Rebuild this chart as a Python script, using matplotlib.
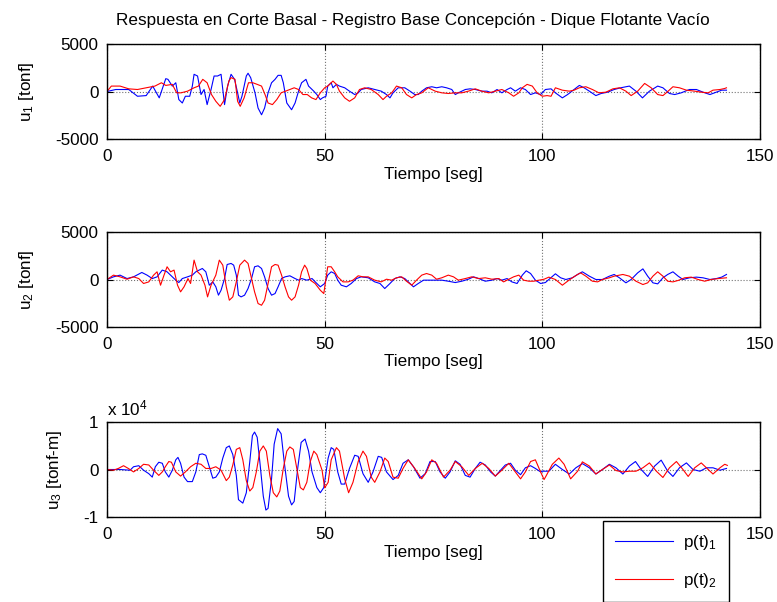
import matplotlib
matplotlib.use("Agg")
import matplotlib.pyplot as plt
import numpy as np

plt.rcParams['font.family'] = ['Liberation Sans', 'DejaVu Sans']
plt.rcParams['mathtext.fontset'] = 'custom'
plt.rcParams['mathtext.rm'] = 'Liberation Sans'
plt.rcParams['mathtext.it'] = 'Liberation Sans:italic'
plt.rcParams['axes.unicode_minus'] = False

# Datos: (tiempo [seg], valor)
t_u1_p1 = [0, 2, 5, 7, 9, 10.5, 12, 13.5, 14, 15, 15.8, 16.5, 17.3, 18, 19, 19.6, 20, 20.8, 21.6, 22.3,
           23, 23.9, 24.6, 25.4, 26.2, 27, 27.7, 28.5, 29.3, 30, 30.5, 31, 32, 32.4, 33, 34, 34.7, 35.5,
           36.2, 37, 37.8, 38.6, 39.3, 40, 40.5, 41.3, 42.4, 43.2, 44, 44.7, 45.7, 46.3, 47.5, 48.2, 49,
           49.5, 50.3, 50.7, 51.5, 51.9, 52.7, 53.4, 54.6, 55.7, 56.9, 57.7, 58.4, 60, 61.5, 63, 64.2, 65,
           65.7, 66.9, 68.4, 69.6, 70.7, 71.5, 72.3, 73.4, 74.6, 75.7, 76.9, 78, 79.2, 80, 80.7, 82.3, 83.4,
           84.6, 86.1, 87.3, 88.4, 89.6, 90.7, 91.9, 92.7, 93.8, 95, 96.1, 97.3, 98.4, 99.6, 100.7, 102,
           103, 104.6, 105.8, 107.3, 108.5, 109.6, 110.8, 112.3, 113.5, 115, 116.5, 118, 120, 121.5, 123,
           124.6, 126.5, 127.7, 129.2, 130.4, 131.9, 133.8, 135.4, 136.9, 138.5, 140, 141.2, 142.3]
u1_p1 = [0, 210, 210, -500, -430, 570, -670, 1350, 1280, 570, 920, -850, -1210, -500, -500, 570, 1810, 1630,
         -320, 210, -1380, 210, 1630, 1630, 1810, -1380, 570, 1810, 1280, -140, -1210, -500, 1630, 1920, 1460,
         -140, -1740, -2450, -1740, -140, 920, 1280, 1700, 1700, 920, -1210, -1920, -1210, 35, 920, 1280, 570,
         35, -320, -850, -670, -500, 570, 920, 390, 750, 570, 390, 35, -320, -140, 210, 390, 210, 35, -320,
         -670, -140, 390, 390, 35, -320, -320, 35, 390, 500, 390, 500, 390, 210, -320, -140, 210, 280, 210,
         35, 35, -140, 210, -140, 210, 390, 35, 390, 210, -320, -140, -320, 210, 280, -140, -670, -320, 210,
         640, 390, 35, -430, -210, -70, 210, 390, 570, 35, -670, 35, 570, 390, -210, -320, -140, 210, 210,
         -70, -320, -70, 140, 140]

t_u1_p2 = [0, 1, 3, 5, 7, 9, 11, 12.5, 13.5, 15, 16, 17, 18.5, 20, 21, 22, 23, 24, 25, 26, 27, 28, 28.5,
           29.4, 30, 30.6, 31.5, 32.5, 33.5, 34.5, 35.5, 36.3, 37, 38, 39, 40, 41, 42, 43, 44, 45, 46, 47, 48,
           49, 50, 50.7, 51.9, 52.7, 53.4, 54.6, 55.7, 56.9, 58, 59.2, 60.7, 62.3, 63.4, 64.2, 65.4, 66.5,
           67.7, 68.8, 70, 71.1, 72.3, 73.8, 75.4, 76.9, 78.4, 80, 81.5, 83, 84.6, 86.1, 87.7, 89.2, 90.7,
           92.3, 93.4, 94.6, 95.4, 96.5, 97.7, 98.8, 100, 101.1, 102, 103, 104.6, 106.2, 107.3, 108.5, 110,
           111.5, 113, 114.6, 116.2, 117.7, 119.2, 120.4, 121.9, 123.5, 125, 126.5, 127.7, 128.9, 130, 131.5,
           133.1, 135, 136.5, 138.1, 139.2, 140.8, 141.9, 142.3]
u1_p2 = [0, 570, 570, 280, 210, 390, 570, 920, 640, 750, -140, -140, 35, 390, 570, 1280, 920, -320, -1030,
         -1560, -850, 1100, 1460, 1280, -1030, -1560, -670, 920, 920, 750, 570, -320, -1210, -1380, -850, -140,
         35, 210, 390, 210, -320, -320, -670, -850, -140, 390, 570, 1100, 750, 35, -670, -1030, -670, 210, 390,
         210, -320, -850, -500, -140, 570, 390, -320, -670, -320, -140, 390, 35, -140, -210, -140, -140, 35,
         280, 35, -140, 35, 210, -140, -500, -140, 390, 750, 570, -140, -500, -430, -500, 390, 140, 35, 140,
         390, 500, 210, -140, -70, 280, 390, 35, -430, 35, 850, 390, -320, -430, 35, 500, 390, 140, 35, -70,
         -140, 140, 210, 320, 390]

t_u2_p1 = [0, 1.5, 3, 4.6, 6.1, 8, 9.2, 10.4, 11.5, 12.7, 13.8, 15, 15.8, 16.5, 17.3, 18.5, 19.6, 20.4, 21.2,
           21.9, 22.7, 23.5, 24.3, 25, 25.6, 26.2, 27, 27.6, 28.5, 29.1, 29.7, 30.2, 30.8, 31.6, 32.4, 33.2,
           33.9, 34.7, 35.5, 36.2, 37, 37.8, 38.6, 39.3, 40.1, 40.9, 42, 43.2, 44, 44.7, 45.9, 47.1, 48.2, 49,
           50, 50.7, 51.5, 52.3, 53, 53.8, 55, 56.1, 57.3, 58.4, 60, 61.5, 62.7, 63.8, 65, 66.1, 67.3, 68.4,
           69.6, 70.4, 71.5, 72.7, 73.8, 75.4, 76.9, 78.4, 80, 81.5, 83, 84.2, 85.4, 86.9, 88.4, 89.6, 90.7,
           91.9, 93, 94.2, 95.4, 96.3, 97.3, 98.4, 99.6, 100.7, 101.5, 103, 104.2, 105.4, 106.9, 108.1,
           109.2, 110.8, 112.3, 113.8, 115.4, 116.5, 117.7, 119.2, 120.4, 121.9, 123.1, 124.2, 125.4, 126.5,
           127.7, 128.8, 130, 131.2, 132.3, 133.8, 135.4, 136.9, 138.5, 140, 141.2, 142.3]
u2_p1 = [0, 280, 460, 100, 280, 740, 460, 100, 280, 990, 810, 280, -70, -320, 100, 280, 460, 810, 990, 1160,
         810, -600, -250, -770, -1650, -1130, 100, 1580, 1690, 1510, 460, -1650, -1830, -1650, -950, 100, 1340,
         1440, 1160, 280, -950, -1650, -1480, -770, 100, 280, 390, 100, -70, 100, -70, 100, -420, -770, -420,
         460, 810, 630, -70, -600, -770, -420, 100, 280, 180, -250, -420, -950, -420, 100, 280, 100, -420,
         -770, -420, -70, -70, -70, -70, -180, -320, -180, 30, 280, 100, -180, -70, 100, -70, 100, -250, -420,
         460, 915, 630, -70, -420, -320, 0, 600, 180, 0, 180, 530, 810, 350, 0, 0, 350, 530, 180, -350, 0,
         700, 1120, 350, -350, -460, 180, 530, 810, 350, 0, 180, 250, 180, 0, 100, 250, 530]

t_u2_p2 = [0, 1.5, 3, 4.6, 6.1, 7.3, 8.4, 9.6, 10.7, 11.5, 12.3, 13.1, 13.8, 14.6, 15.4, 16.2, 16.9, 17.7,
           18.6, 19.2, 20, 20.8, 21.6, 22.5, 23.1, 23.9, 25, 25.8, 26.6, 27.4, 28.1, 28.9, 29.7, 30.5, 31.6,
           32.4, 33.2, 33.9, 34.7, 35.5, 36.2, 37, 37.8, 38.6, 39.3, 40.1, 40.9, 41.7, 42.4, 43.2, 44, 44.7,
           45.4, 45.9, 46.7, 47.8, 49, 49.8, 50.3, 50.7, 51.5, 52.3, 53, 54.2, 55.4, 56.5, 57.7, 58.8, 60,
           61.5, 63, 64.2, 65.4, 66.5, 67.7, 68.8, 70, 71.1, 72.3, 73.4, 74.6, 75.7, 76.9, 78.4, 79.6, 80.7,
           82.3, 83.8, 85.4, 86.9, 88.4, 90, 91.1, 92.3, 93.4, 94.6, 95.7, 96.9, 98, 99.2, 100.4, 101.5, 103,
           104.6, 105.8, 106.9, 108.1, 108.8, 110, 111.5, 112.7, 113.8, 115.4, 116.5, 118.5, 120, 121.5,
           123.1, 124.2, 125.4, 126.5, 127.7, 128.8, 130, 131.2, 132.7, 134.2, 135.8, 137.3, 138.8, 140.4,
           142.3]
u2_p2 = [0, 460, 280, 30, 280, 100, -420, -250, 460, 810, -600, 460, 1340, 810, 990, -600, -1300, -770, 100,
         -420, 2040, 810, 460, -600, -1830, -600, 460, 2040, 1510, -770, -2180, -1830, -250, 1510, 2040, 1690,
         100, -1300, -2530, -2710, -2180, -420, 1340, 1580, 1510, 460, -770, -1830, -2180, -1830, -600, 810,
         1510, 1160, -70, -420, -1130, -1480, 100, 1340, 1340, 810, 280, -250, -250, -70, 390, 280, 280, -70,
         -250, 30, -70, 180, 280, -180, -600, -70, 460, 630, 460, 30, 180, 460, 280, -70, 100, 280, 100, 180,
         30, 100, -250, 30, 280, 460, -70, -180, -180, -70, 30, 250, 0, -600, -180, 180, 530, 700, 350, -180,
         -250, 0, 180, 350, 530, 350, -180, -530, -350, 350, 810, 350, -180, -250, -100, 180, 250, 0, -180, 0,
         100, 180]

t_u3_p1 = [0, 3, 5.3, 6.1, 7.3, 8.4, 9.6, 10.4, 11.1, 11.9, 12.7, 13.4, 14.2, 15, 15.8, 16.3, 16.9, 17.7,
           18.5, 19.6, 20.4, 21.2, 21.9, 22.7, 23.5, 24.3, 25, 25.8, 26.6, 27.4, 28.1, 28.9, 29.7, 30.2, 31.2,
           32, 32.8, 33.4, 33.9, 34.5, 35.1, 35.9, 36.5, 37, 37.8, 38.4, 39.2, 40, 40.7, 41.7, 42.4, 43, 43.8,
           44.6, 45.5, 46.3, 47.1, 48.2, 49, 49.8, 50.8, 51.5, 52.1, 53, 53.8, 54.6, 55.7, 56.9, 57.7, 58.8,
           60, 61.1, 62.3, 63.1, 64.2, 65.7, 66.9, 68, 69.2, 70.4, 71.9, 73.1, 74.2, 75.4, 76.5, 77.7, 78.8,
           80, 81.1, 82.3, 83.4, 84.6, 85.7, 86.9, 88.1, 89.2, 90.4, 91.5, 92.7, 93.8, 95, 96.1, 97.3, 98.4,
           99.6, 100, 101.5, 103, 104.6, 106.2, 107.7, 109.2, 110.8, 112.3, 113.8, 115.4, 116.9, 118.5, 120,
           121.4, 122.7, 124.2, 125.8, 127.3, 128.8, 130, 131.5, 133.1, 134.6, 136.2, 137.7, 139.2, 140.8,
           142.3]
u3_p1 = [0, 0, -150, 580, 800, -150, -880, -1600, 580, 1530, 1310, -510, -1600, -150, 2040, 2550, 1310, -1600,
         -2550, -2550, -510, 3140, 3290, 2990, 580, -1830, -1610, -510, 2410, 4600, 4960, 3140, -1240, -6350,
         -7080, -4890, 1680, 7150, 7880, 6790, 1680, -5620, -8540, -8180, -1970, 5330, 8610, 7520, 1680, -5620,
         -7450, -6720, 220, 5700, 6420, 3870, -510, -3800, -4890, -3800, 2410, 4600, 4230, -510, -3070, -3070,
         220, 3000, 2770, -880, -2700, -510, 2770, 2550, -510, -2120, -1240, 1310, 2040, 580, -1830, -880, 1680,
         1680, -510, -1830, -510, 1830, 1100, -1240, -1610, 220, 1530, 950, -510, -1390, -150, 950, 1310, -150,
         -1100, 360, 800, 220, -510, -360, -360, 1100, 0, -950, 360, 1240, 360, -950, 0, 1100, 360, -950, 730,
         1680, 0, -1460, 730, 1970, -360, -1460, 360, 1390, 0, -360, 360, 360, -150, 220]

t_u3_p2 = [0, 1.5, 2.6, 3.8, 4.9, 6.1, 7.3, 8.4, 9.6, 10.7, 11.9, 12.7, 13.4, 14.2, 14.8, 15.8, 16.9, 18,
           19.2, 20.4, 21.6, 22.7, 23.9, 25, 26.2, 27.4, 28.1, 28.9, 29.7, 30.5, 31.2, 32, 32.8, 33.5, 34.3,
           35.1, 35.9, 36.6, 37.4, 38.2, 39, 39.7, 40.5, 41.3, 42, 42.8, 43.6, 44.4, 45.1, 45.9, 46.7, 47.5,
           48.2, 49.4, 50, 50.8, 51.5, 52.7, 53.4, 54.6, 55.5, 56.5, 57.7, 58.8, 59.6, 60.7, 61.5, 62.7, 63.8,
           64.6, 65.7, 66.9, 68, 69.2, 70.7, 72.3, 73.4, 74.6, 75.7, 77.3, 78.8, 80, 81.5, 83.1, 84.6, 86.2,
           87.7, 89.2, 90.7, 92.3, 93.8, 95, 96.1, 97.3, 98.4, 99.6, 100.4, 100.8, 102.3, 103.8, 105, 106.5,
           108.1, 109.2, 110.8, 112.3, 113.8, 115.4, 116.9, 118.5, 120, 121.5, 123.1, 124.6, 126.2, 127.7,
           129.2, 130.8, 132.3, 133.5, 135, 136.5, 138.1, 139.2, 140.8, 141.9, 142.5]
u3_p2 = [0, -150, 220, 800, 220, -510, 220, 1100, 950, -150, -1240, -510, 580, 1680, 1530, -510, -1390, -510,
         580, 1310, 1100, 220, 220, 580, -150, -2340, -1610, 950, 4230, 4600, 2040, -2340, -4530, -3800, -510,
         3870, 4960, 3870, -1240, -4890, -5770, -4530, 220, 3870, 4750, 4230, 220, -3800, -4300, -2700, 1680,
         3870, 3140, -150, -3870, -2700, 2040, 4600, 3870, -1970, -4890, -2700, 1680, 3870, 2770, -1610, -2700,
         -510, 2410, 1680, -1610, -1830, 220, 2040, 220, -1970, -510, 2040, 1310, -1610, -150, 1680, 580, -1240,
         220, 1310, 220, -1390, -150, 1310, -510, -1970, -510, 1680, 2040, -510, -2120, -1460, 1100, 2410, 1100,
         -1970, -360, 1610, 730, -950, 0, 950, -220, -510, -360, -360, 360, 1390, -360, -1680, 360, 1680, 0,
         -1460, 360, 1390, 0, -950, 360, 1100, 870]

series = [
    (t_u1_p1, u1_p1, t_u1_p2, u1_p2, 'u$_1$ [tonf]'),
    (t_u2_p1, u2_p1, t_u2_p2, u2_p2, 'u$_2$ [tonf]'),
    (t_u3_p1, np.array(u3_p1) / 1e4, t_u3_p2, np.array(u3_p2) / 1e4, 'u$_3$ [tonf-m]'),
]

W, H = 777, 602
fig = plt.figure(figsize=(W / 100, H / 100), dpi=100)
fs = 12.3

tops = [44, 232, 422]
axes = []
for i, (ta, ya, tb, yb, lab) in enumerate(series):
    top = tops[i]
    ax = fig.add_axes([107 / W, 1 - (top + 95) / H, 653 / W, 95 / H])
    l1, = ax.plot(ta, ya, color='#0000ff', lw=0.8, label='p(t)$_1$')
    l2, = ax.plot(tb, yb, color='#ff0000', lw=0.8, label='p(t)$_2$')
    ax.set_xlim(0, 150)
    ax.set_xticks([0, 50, 100, 150])
    if i < 2:
        ax.set_ylim(-5000, 5000)
        ax.set_yticks([-5000, 0, 5000])
    else:
        ax.set_ylim(-1, 1)
        ax.set_yticks([-1, 0, 1])
    ax.grid(True, color='0.45', ls=':', lw=0.8)
    ax.tick_params(direction='in', top=True, right=True, length=4, width=0.8, labelsize=fs)
    ax.tick_params(axis='x', pad=7)
    ax.tick_params(axis='y', pad=6)
    for s in ax.spines.values():
        s.set_linewidth(1.0)
    ax.set_xlabel('Tiempo [seg]', fontsize=fs, labelpad=2)
    ax.set_ylabel(lab, fontsize=fs, labelpad=14)
    axes.append(ax)

ttl = axes[0].set_title('Respuesta en Corte Basal - Registro Base Concepción - Dique Flotante Vacío',
                        fontsize=fs, pad=14)
ttl.set_x(0.468)
axes[2].text(0.0, 1.04, 'x 10$^4$', transform=axes[2].transAxes, fontsize=fs, va='bottom', ha='left')

fig.legend(handles=[l1, l2], loc='upper left', bbox_to_anchor=(603 / W, 1 - 521 / H),
           fontsize=fs, frameon=True, fancybox=False, edgecolor='k', framealpha=1,
           handlelength=3.4, handletextpad=0.6, labelspacing=1.1, borderpad=0.7, borderaxespad=0)

fig.savefig('out.png', dpi=100)
